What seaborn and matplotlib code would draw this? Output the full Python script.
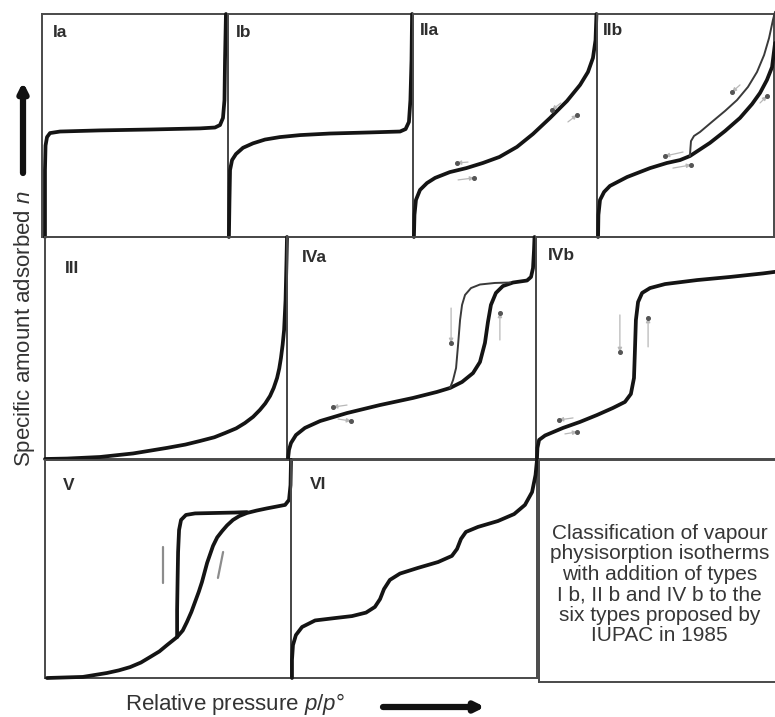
import matplotlib
matplotlib.use("Agg")
import matplotlib.pyplot as plt
import seaborn as sns
from matplotlib.patches import FancyArrowPatch

# ---------------------------------------------------------------------------
# Isotherm curves: relative pressure p/p° (x) vs. normalised amount adsorbed (y)
# ---------------------------------------------------------------------------
IA_P = [0.016, 0.016, 0.019, 0.027, 0.043, 0.097, 0.31, 0.58, 0.85, 0.93, 0.957, 0.973, 0.981, 0.984, 0.989]
IA_N = [0.0, 0.30, 0.41, 0.448, 0.466, 0.473, 0.478, 0.482, 0.487, 0.491, 0.502, 0.534, 0.614, 0.794, 1.0]

IB_P = [0.005, 0.008, 0.011, 0.022, 0.043, 0.081, 0.135, 0.20, 0.28, 0.39, 0.55, 0.77, 0.93, 0.96, 0.978, 0.986, 0.992, 0.995]
IB_N = [0.0, 0.166, 0.30, 0.345, 0.372, 0.40, 0.42, 0.437, 0.448, 0.457, 0.464, 0.469, 0.473, 0.484, 0.516, 0.614, 0.794, 1.0]

IIA_P = [0.005, 0.008, 0.016, 0.038, 0.076, 0.12, 0.20, 0.29, 0.38, 0.47, 0.565, 0.652, 0.745, 0.837, 0.908, 0.951, 0.978, 0.992, 0.997]
IIA_N = [0.0, 0.099, 0.166, 0.211, 0.242, 0.265, 0.291, 0.309, 0.332, 0.359, 0.404, 0.462, 0.534, 0.61, 0.682, 0.74, 0.803, 0.883, 1.0]

IIB_P = [0.006, 0.008, 0.017, 0.04, 0.073, 0.17, 0.30, 0.395, 0.469, 0.525, 0.638, 0.723, 0.808, 0.876, 0.921, 0.96, 0.989, 1.006]
IIB_N = [0.0, 0.099, 0.166, 0.202, 0.229, 0.269, 0.309, 0.332, 0.345, 0.363, 0.422, 0.475, 0.534, 0.596, 0.646, 0.704, 0.762, 0.87]
IIB_DES_P = [0.525, 0.528, 0.531, 0.548, 0.582, 0.655, 0.723, 0.791, 0.853, 0.904, 0.944, 0.972, 0.994, 1.006]
IIB_DES_N = [0.363, 0.399, 0.43, 0.453, 0.471, 0.52, 0.565, 0.614, 0.673, 0.74, 0.816, 0.892, 0.973, 1.01]

III_P = [0.0, 0.091, 0.227, 0.364, 0.504, 0.58, 0.64, 0.70, 0.744, 0.79, 0.826, 0.86, 0.888, 0.91, 0.93,
         0.945, 0.959, 0.968, 0.975, 0.982, 0.988, 0.994, 0.998, 1.0]
III_N = [0.0, 0.002, 0.009, 0.025, 0.05, 0.065, 0.081, 0.098, 0.117, 0.138, 0.162, 0.19, 0.221, 0.25, 0.284,
         0.32, 0.365, 0.408, 0.455, 0.515, 0.581, 0.716, 0.896, 1.0]

IVA_P = [0.004, 0.008, 0.016, 0.036, 0.072, 0.133, 0.241, 0.373, 0.506, 0.602, 0.655, 0.703, 0.747, 0.775, 0.795,
         0.807, 0.819, 0.839, 0.867, 0.908, 0.964, 0.98, 0.988, 0.992, 0.994]
IVA_N = [0.0, 0.041, 0.072, 0.108, 0.14, 0.171, 0.207, 0.243, 0.275, 0.302, 0.32, 0.347, 0.387, 0.437, 0.523,
         0.617, 0.694, 0.748, 0.779, 0.795, 0.804, 0.82, 0.86, 0.941, 1.0]
IVA_DES_P = [0.655, 0.667, 0.679, 0.687, 0.695, 0.703, 0.715, 0.739, 0.775, 0.835, 0.896]
IVA_DES_N = [0.32, 0.356, 0.41, 0.514, 0.626, 0.694, 0.739, 0.77, 0.786, 0.793, 0.795]

IVB_P = [0.004, 0.006, 0.013, 0.038, 0.113, 0.184, 0.255, 0.322, 0.372, 0.397, 0.41, 0.414, 0.418, 0.427, 0.444,
         0.477, 0.54, 0.674, 0.812, 0.95, 1.0]
IVB_N = [0.0, 0.05, 0.086, 0.106, 0.14, 0.167, 0.198, 0.23, 0.257, 0.293, 0.365, 0.491, 0.626, 0.707, 0.748,
         0.77, 0.788, 0.806, 0.82, 0.836, 0.843]

V_P = [0.008, 0.154, 0.252, 0.30, 0.346, 0.39, 0.427, 0.465, 0.496, 0.537, 0.56, 0.577, 0.595, 0.61, 0.625,
       0.638, 0.659, 0.683, 0.70, 0.72, 0.74, 0.764, 0.79, 0.821, 0.86, 0.902, 0.976, 0.992, 0.998, 1.0]
V_N = [0.0, 0.005, 0.023, 0.035, 0.05, 0.071, 0.096, 0.122, 0.151, 0.188, 0.218, 0.257, 0.303, 0.349, 0.395,
       0.44, 0.528, 0.606, 0.645, 0.674, 0.70, 0.725, 0.743, 0.757, 0.768, 0.778, 0.794, 0.817, 0.885, 1.0]
V_DES_P = [0.537, 0.537, 0.539, 0.541, 0.545, 0.553, 0.573, 0.61, 0.691, 0.772, 0.821]
V_DES_N = [0.188, 0.312, 0.45, 0.578, 0.679, 0.725, 0.748, 0.755, 0.757, 0.759, 0.761]

VI_P = [0.004, 0.004, 0.008, 0.02, 0.045, 0.098, 0.179, 0.248, 0.305, 0.341, 0.362, 0.378, 0.402, 0.443, 0.516,
        0.598, 0.654, 0.675, 0.691, 0.711, 0.76, 0.841, 0.907, 0.951, 0.98, 0.994, 1.0]
VI_N = [0.0, 0.083, 0.151, 0.197, 0.234, 0.264, 0.275, 0.284, 0.30, 0.326, 0.362, 0.408, 0.45, 0.479, 0.505,
        0.532, 0.56, 0.592, 0.638, 0.67, 0.693, 0.72, 0.752, 0.794, 0.853, 0.931, 1.0]

# Direction markers (tail x, tail y, head x, head y) for adsorption / desorption
IIA_ARROWS = [(0.299, 0.336, 0.239, 0.332), (0.245, 0.256, 0.332, 0.265),
              (0.804, 0.601, 0.755, 0.570), (0.842, 0.516, 0.891, 0.547)]
IIB_ARROWS = [(0.486, 0.381, 0.384, 0.363), (0.429, 0.309, 0.531, 0.323),
              (0.808, 0.682, 0.763, 0.650), (0.921, 0.601, 0.960, 0.632)]
IVA_ARROWS = [(0.241, 0.243, 0.185, 0.234), (0.205, 0.180, 0.257, 0.171),
              (0.659, 0.680, 0.659, 0.523), (0.855, 0.536, 0.855, 0.658)]
IVB_ARROWS = [(0.155, 0.185, 0.096, 0.176), (0.121, 0.113, 0.172, 0.122),
              (0.351, 0.649, 0.351, 0.482), (0.469, 0.505, 0.469, 0.635)]
V_STROKES = [(0.48, 0.601, 0.48, 0.436), (0.703, 0.459, 0.724, 0.578)]

PANEL_LABELS = ["Ia", "Ib", "IIa", "IIb", "III", "IVa", "IVb", "V", "VI"]

NOTE_LINES = ["Classification of vapour",
              "physisorption isotherms",
              "with addition of types",
              "I b, II b and IV b to the",
              "six types proposed by",
              "IUPAC in 1985"]

Y_LABEL = "Specific amount adsorbed $n$"
X_LABEL = "Relative pressure $p/p$°"

# ---------------------------------------------------------------------------
sns.set_theme(style="white")
plt.rcParams["font.family"] = ["Liberation Sans", "DejaVu Sans"]
plt.rcParams["mathtext.fontset"] = "custom"
plt.rcParams["mathtext.it"] = "Liberation Sans:italic"
plt.rcParams["mathtext.rm"] = "Liberation Sans"

FW, FH = 775, 717
fig = plt.figure(figsize=(FW / 100, FH / 100), dpi=100)
fig.patch.set_facecolor("white")

FRAME = "#4a4a4a"
INK = "#141414"


def panel(left, top, width, height, hide=()):
    ax = fig.add_axes([left / FW, 1 - (top + height) / FH, width / FW, height / FH])
    ax.set_xlim(0, 1)
    ax.set_ylim(0, 1)
    ax.set_xticks([])
    ax.set_yticks([])
    ax.patch.set_alpha(0)
    for name, sp in ax.spines.items():
        sp.set_color(FRAME)
        sp.set_linewidth(1.4)
        if name in hide:
            sp.set_visible(False)
    return ax


def curve(ax, xs, ys, lw=2.7, color=INK):
    sns.lineplot(x=xs, y=ys, ax=ax, sort=False, estimator=None, color=color,
                 linewidth=lw, clip_on=False, solid_joinstyle="round",
                 solid_capstyle="round", zorder=3)
    ax.set_xlabel("")
    ax.set_ylabel("")


def markers(ax, arrows):
    for tx, ty, hx, hy in arrows:
        ax.annotate("", xy=(hx, hy), xytext=(tx, ty),
                    arrowprops=dict(arrowstyle="-|>", color="#b8b8b8", lw=0.9,
                                    mutation_scale=6, shrinkA=0, shrinkB=0))
        ax.plot([hx], [hy], "o", ms=2.6, color="#555555", zorder=4)


def label(ax, text, dx, dy):
    ax.annotate(text, xy=(0, 1), xycoords="axes fraction", xytext=(dx, -dy),
                textcoords="offset pixels", ha="left", va="top",
                fontsize=12.5, fontweight="bold", color="#2e2e2e")


# Row 1
ax_ia = panel(42, 14, 186, 223)
ax_ib = panel(228, 14, 185, 223)
ax_iia = panel(413, 14, 184, 223)
ax_iib = panel(597, 14, 177, 223)
# Row 2
ax_iii = panel(45, 237, 242, 222)
ax_iva = panel(287, 237, 249, 222)
ax_ivb = panel(536, 237, 239, 222, hide=("right",))
# Row 3
ax_v = panel(45, 460, 246, 218)
ax_vi = panel(291, 460, 246, 218)
ax_note = panel(539, 460, 236, 222, hide=("right",))

curve(ax_ia, IA_P, IA_N)
curve(ax_ib, IB_P, IB_N)
curve(ax_iia, IIA_P, IIA_N)
curve(ax_iib, IIB_P, IIB_N)
curve(ax_iib, IIB_DES_P, IIB_DES_N, lw=1.4, color="#3a3a3a")
curve(ax_iii, III_P, III_N)
curve(ax_iva, IVA_P, IVA_N)
curve(ax_iva, IVA_DES_P, IVA_DES_N, lw=1.4, color="#3a3a3a")
curve(ax_ivb, IVB_P, IVB_N)
curve(ax_v, V_P, V_N)
curve(ax_v, V_DES_P, V_DES_N)
curve(ax_vi, VI_P, VI_N)

markers(ax_iia, IIA_ARROWS)
markers(ax_iib, IIB_ARROWS)
markers(ax_iva, IVA_ARROWS)
markers(ax_ivb, IVB_ARROWS)
for x0, y0, x1, y1 in V_STROKES:
    ax_v.plot([x0, x1], [y0, y1], color="#8c8c8c", lw=1.6, solid_capstyle="round")

label_offsets = [(11, 11), (8, 11), (7, 9), (6, 9), (20, 24), (15, 13), (12, 11), (18, 18), (19, 17)]
for ax, text, (dx, dy) in zip([ax_ia, ax_ib, ax_iia, ax_iib, ax_iii, ax_iva, ax_ivb, ax_v, ax_vi],
                              PANEL_LABELS, label_offsets):
    label(ax, text, dx, dy)

ax_note.text(0.51, 0.44, "\n".join(NOTE_LINES), ha="center", va="center",
             fontsize=15, linespacing=1.1, color="#363636", transform=ax_note.transAxes)

# Axis captions with direction arrows
fig.text(25 / FW, 1 - 329 / FH, Y_LABEL, rotation=90, ha="center", va="center",
         fontsize=16, color="#333333")
fig.text(125 / FW, 1 - 704 / FH, X_LABEL, ha="left", va="center",
         fontsize=16, color="#333333")

fig.add_artist(FancyArrowPatch((23 / FW, 1 - 173 / FH), (23 / FW, 1 - 82 / FH),
                               transform=fig.transFigure, arrowstyle="-|>",
                               mutation_scale=13, lw=4.5, color="#111111",
                               shrinkA=0, shrinkB=0))
fig.add_artist(FancyArrowPatch((383 / FW, 1 - 707 / FH), (485 / FW, 1 - 707 / FH),
                               transform=fig.transFigure, arrowstyle="-|>",
                               mutation_scale=13, lw=4.5, color="#111111",
                               shrinkA=0, shrinkB=0))

fig.savefig("out.png", dpi=100, facecolor="white")
